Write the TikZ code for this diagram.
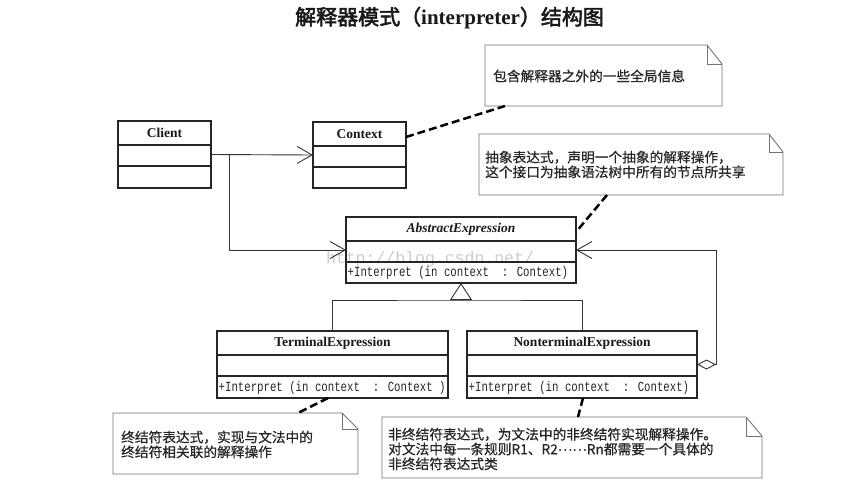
\documentclass[tikz,border=0pt]{standalone}
\usepackage{fontspec}
\usepackage{graphicx}
\setmainfont{Liberation Serif}
\newfontfamily\cjk[FakeBold=0.6]{Noto Sans CJK SC}
\newfontfamily\cjkb[FakeBold=2.5]{Noto Sans CJK SC}
\newfontfamily\opfont{Liberation Mono}
\usetikzlibrary{arrows.meta,calc}
\tikzset{
  cls/.style={draw=black!85, line width=1.2pt, fill=white, inner sep=0pt, outer sep=0pt},
  divider/.style={draw=black!85, line width=1.1pt},
  cname/.style={font=\fontsize{13.5}{16}\selectfont\bfseries, inner sep=0pt, text=black!90},
  op/.style={font=\opfont\fontsize{10.7}{12}\selectfont, inner sep=0pt, anchor=west, text=black!85},
  notebg/.style={draw=none, inner sep=0pt, outer sep=0pt},
  noteline/.style={draw=black!55, line width=0.9pt},
  notetext/.style={font=\cjk\fontsize{13.7}{14.8}\selectfont, align=left, inner sep=0pt, anchor=west, text=black!85},
  assoc/.style={draw=black!80, line width=0.9pt, -{Straight Barb[length=15pt,width=17pt,line width=0.9pt]}},
  dashconn/.style={draw=black, line width=2.5pt, dash pattern=on 8pt off 4pt},
}
\newcommand\mynote[3]{%
  \draw[noteline] (#1.north west) -- ([xshift=-#2]#1.north east) -- ([yshift=-#3]#1.north east) -- (#1.south east) -- (#1.south west) -- cycle;
  \draw[noteline] ([xshift=-#2]#1.north east) |- ([yshift=-#3]#1.north east);}
\newcommand\mydivs[1]{%
  \draw[divider] ([yshift=-24pt]#1.north west) -- ([yshift=-24pt]#1.north east);
  \draw[divider] ([yshift=-45pt]#1.north west) -- ([yshift=-45pt]#1.north east);}
\begin{document}
\begin{tikzpicture}[x=1pt,y=-1pt]
\useasboundingbox[fill=white] (0,0) rectangle (841,496);

% title
\node[anchor=west, inner sep=0pt, text=black!90] (title) at (295,18)
  {\cjkb\fontsize{21}{25}\selectfont 解释器模式（{\rmfamily\bfseries interpreter}）结构图};

% watermark
\node[inner sep=0pt, text=black!20, font=\opfont\fontsize{16.5}{18}\selectfont] (wm) at (430,259) {http://blog.csdn.net/};

% classes
\node[cls, minimum width=93pt, minimum height=67pt] (client) at (164.5,154.5) {};
\node[cls, minimum width=93pt, minimum height=66pt] (context) at (359.5,155) {};
\node[cls, minimum width=230pt, minimum height=66pt, fill=none] (ae) at (461,250) {};
\node[cls, minimum width=231pt, minimum height=67pt] (term) at (332.5,364.5) {};
\node[cls, minimum width=230pt, minimum height=67pt] (nt) at (582,364.5) {};
\mydivs{client}
\mydivs{context}
\mydivs{ae}
\mydivs{term}
\mydivs{nt}

\node[cname] (clientT) at ($(client.north)+(0,12)$) {Client};
\node[cname] (contextT) at ($(context.north)+(0,12)$) {Context};
\node[cname, font=\fontsize{13.5}{16}\selectfont\bfseries\itshape] (aeT) at ($(ae.north)+(0,12)$) {AbstractExpression};
\node[cname] (termT) at ($(term.north)+(0,12)$) {TerminalExpression};
\node[cname] (ntT) at ($(nt.north)+(0,12)$) {NonterminalExpression};

\node[op] (aeOp) at ($(ae.south west)+(1.5,-10.5)$) {\scalebox{1}[1.3]{+Interpret (in context\ \ : Context)}};
\node[op] (termOp) at ($(term.south west)+(1.5,-10.5)$) {\scalebox{1}[1.3]{+Interpret (in context\ \ : Context )}};
\node[op] (ntOp) at ($(nt.south west)+(1.5,-10.5)$) {\scalebox{1}[1.3]{+Interpret (in context\ \ : Context)}};

% associations
\draw[assoc] (client.east) -- (context.west);
\coordinate (br) at (229,154.5);
\draw[assoc] (br) |- (ae.west);
\coordinate (agg) at (716,364.5);
\draw[draw=black!80, line width=0.9pt, {Diamond[open,length=19pt,width=10pt,line width=0.9pt]}-{Straight Barb[length=15pt,width=17pt,line width=0.9pt]}]
  (nt.east) -- (agg) |- (ae.east);

% generalization
\coordinate (gj) at ($(ae.south)+(0,17)$);
\draw[draw=black!80, line width=0.9pt] (term.north) |- (gj) -| (nt.north);
\draw[draw=black!80, line width=0.9pt, -{Triangle[open,length=17pt,width=22pt,line width=0.9pt,fill=white]}] (gj) -- (ae.south);

% notes
\node[notebg, minimum width=237pt, minimum height=61pt] (n1) at (603.5,75.5) {};
\node[notebg, minimum width=304pt, minimum height=61pt] (n2) at (631,164.5) {};
\node[notebg, minimum width=245pt, minimum height=61pt] (n3) at (235.5,443.5) {};
\node[notebg, minimum width=380pt, minimum height=61pt] (n4) at (572,447.5) {};
\mynote{n1}{15pt}{19pt}
\mynote{n2}{14pt}{18pt}
\mynote{n3}{16pt}{16pt}
\mynote{n4}{16pt}{19pt}

\node[notetext] (n1t) at (493,76) {包含解释器之外的一些全局信息};
\node[notetext] (n2t) at (485,164.5) {抽象表达式，声明一个抽象的解释操作，\\这个接口为抽象语法树中所有的节点所共享};
\node[notetext] (n3t) at (121,444.5) {终结符表达式，实现与文法中的\\终结符相关联的解释操作};
\node[notetext] (n4t) at (388,449) {非终结符表达式，为文法中的非终结符实现解释操作。\\对文法中每一条规则R1、R2\raisebox{3.5pt}{……}Rn都需要一个具体的\\非终结符表达式类};

% dashed note links
\draw[dashconn] ($(context.north east)+(0,15)$) -- ($(n1.south west)+(20,0)$);
\draw[dashconn] ($(n2.south west)+(128,0)$) -- ($(ae.north east)+(0,15)$);
\draw[dashconn] ($(term.south)+(-4.5,0)$) -- ($(n3.north west)+(185,0)$);
\draw[dashconn] ($(nt.south)+(1,0)$) -- ($(n4.north west)+(196,0)$);
\end{tikzpicture}
\end{document}
